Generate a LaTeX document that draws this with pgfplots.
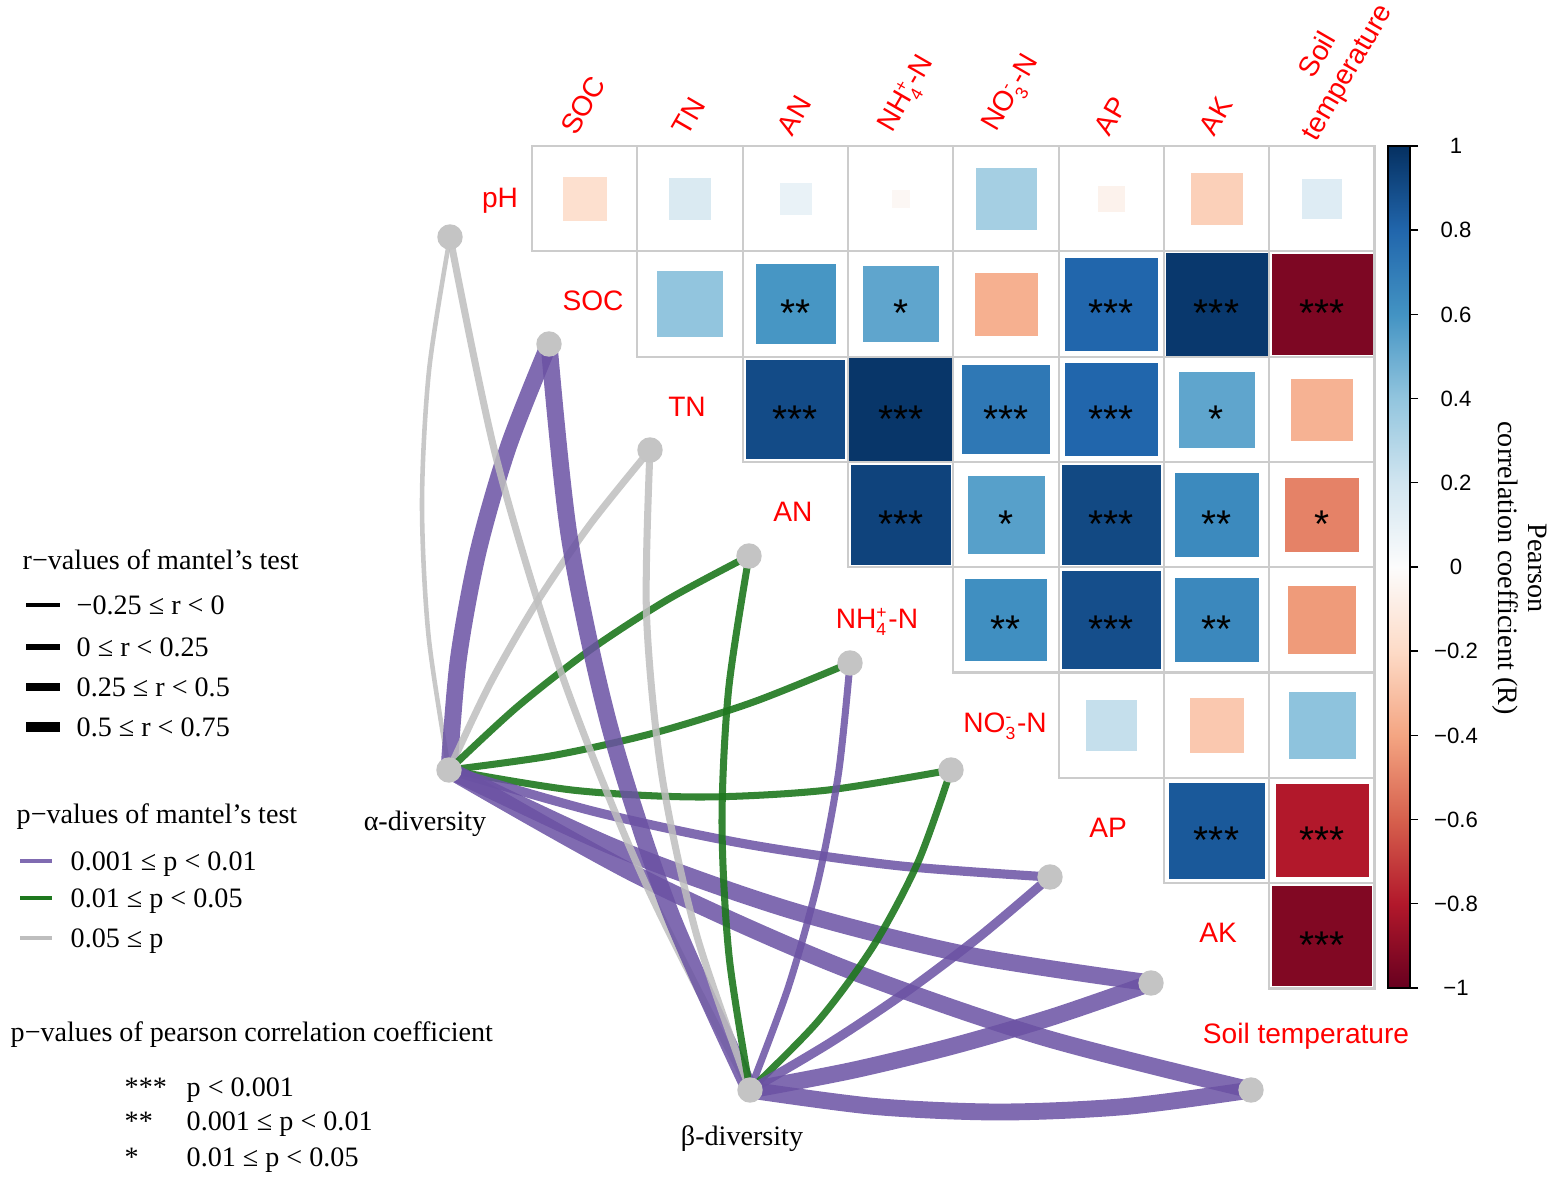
\documentclass[border=0pt]{standalone}
\usepackage{fontspec}
\setmainfont{Liberation Serif}
\newfontfamily\arial{Liberation Sans}
\usepackage{pgfplots}
\pgfplotsset{compat=1.18}
\usepackage{pgfplotstable}
\usetikzlibrary{calc}

\definecolor{mpurple}{RGB}{106,81,163}
\definecolor{mgreen}{RGB}{30,120,30}
\definecolor{mgray}{RGB}{190,190,190}
\definecolor{dotgray}{RGB}{196,196,196}
\definecolor{gridgray}{RGB}{204,204,204}

\newcommand\leg{\fontsize{8}{9.6}\selectfont}
\newcommand\cbl{\fontsize{8}{8.6}\selectfont}
\newcommand\lab{\arial\fontsize{8}{9.6}\selectfont}
\newcommand\stf{\arial\fontsize{11}{12}\selectfont}
\newcommand\tkf{\arial\fontsize{6.3}{7.5}\selectfont}

\pgfplotsset{
  colormap={rdbu}{rgb255=(103,0,31) rgb255=(178,24,43) rgb255=(214,96,77)
    rgb255=(244,165,130) rgb255=(253,219,199) rgb255=(252,252,252)
    rgb255=(209,229,240) rgb255=(146,197,222) rgb255=(67,147,195)
    rgb255=(33,102,172) rgb255=(5,48,97)},
  pur/.style={color=mpurple, opacity=0.85},
  grn/.style={color=mgreen, opacity=0.9},
  gry/.style={color=mgray, opacity=0.85},
  w1/.style={line width=1.3pt},
  w2/.style={line width=2.0pt},
  w3/.style={line width=2.6pt},
  w4/.style={line width=4.8pt},
  ml/.style={smooth, no markers},
}

% pearson r for the upper triangle: i = row (pH..AK), j = column (SOC..Soil temperature)
\pgfplotstableread{
i j r
0 0 -0.17
0 1 0.16
0 2 0.09
0 3 -0.03
0 4 0.34
0 5 -0.06
0 6 -0.24
0 7 0.14
1 1 0.40
1 2 0.59
1 3 0.53
1 4 -0.36
1 5 0.80
1 6 0.97
1 7 -0.94
2 2 0.90
2 3 0.98
2 4 0.72
2 5 0.80
2 6 0.53
2 7 -0.35
3 3 0.93
3 4 0.55
3 5 0.91
3 6 0.64
3 7 -0.50
4 4 0.62
4 5 0.89
4 6 0.65
4 7 -0.43
5 5 0.24
5 6 -0.27
5 7 0.41
6 6 0.85
6 7 -0.80
7 7 -0.93
}\tiles

\pgfplotstableread{
i j s
1 2 **
1 3 *
1 5 ***
1 6 ***
1 7 ***
2 2 ***
2 3 ***
2 4 ***
2 5 ***
2 6 *
3 3 ***
3 4 *
3 5 ***
3 6 **
3 7 *
4 4 **
4 5 ***
4 6 **
6 6 ***
6 7 ***
7 7 ***
}\stars

\pgfplotstableread{
x y
450 237
549 344
650 450
749 556
850 663
951 770
1050 877
1151 983
1251 1090
449 770
750 1090
}\nodetab

\begin{document}
\begin{tikzpicture}
\begin{axis}[
  at={(0,0)}, anchor=south west,
  scale only axis, width=155.9mm, height=118.4mm,
  xmin=0, xmax=1559, ymin=0, ymax=1184, y dir=reverse,
  axis lines=none, clip=false,
  colormap name=rdbu, point meta min=-1, point meta max=1,
  colorbar,
  colorbar style={
    at={($(parent axis.south west)+(135.8mm,19.6mm)$)}, anchor=south west,
    scale only axis, width=2.2mm, height=84.2mm,
    y dir=normal, axis lines=box,
    ytick={-1,-0.8,-0.6,-0.4,-0.2,0,0.2,0.4,0.6,0.8,1},
    yticklabels={−1,−0.8,−0.6,−0.4,−0.2,0,0.2,0.4,0.6,0.8,1},
    yticklabel pos=right, ytick pos=right, tick align=outside,
    major tick length=0.8mm,
    yticklabel style={font=\tkf, anchor=center, xshift=3.8mm},
    axis line style={line width=0.4pt, black},
    tick style={line width=0.4pt, black},
  },
]

% mantel curves from alpha-diversity
\addplot[ml, gry, w1] coordinates {(449,770) (428.6,636.4) (422,503) (429.1,369.9) (450,237)};
\addplot[ml, pur, w4] coordinates {(449,770) (458.3,659.8) (478,552) (508.3,446.8) (549,344)};
\addplot[ml, gry, w2] coordinates {(449,770) (489.9,684) (537,602) (590.4,524) (650,450)};
\addplot[ml, grn, w2] coordinates {(449,770) (517.3,706.8) (590,650) (667.3,599.8) (749,556)};
\addplot[ml, grn, w2] coordinates {(449,770) (552.6,755.6) (654,733) (753.1,702.1) (850,663)};
\addplot[ml, grn, w2] coordinates {(449,770) (574.5,790.3) (700,797) (825.5,790.3) (951,770)};
\addplot[ml, pur, w3] coordinates {(449,770) (596.6,812.1) (746,844) (897.1,865.6) (1050,877)};
\addplot[ml, pur, w4] coordinates {(449,770) (617,848.4) (790,910) (968,954.9) (1151,983)};
\addplot[ml, pur, w4] coordinates {(449,770) (639,876.3) (836,965) (1040,1036.3) (1251,1090)};
% mantel curves from beta-diversity
\addplot[ml, gry, w2] coordinates {(750,1090) (646.5,885.4) (562,675) (496.5,458.9) (450,237)};
\addplot[ml, pur, w4] coordinates {(750,1090) (670.1,911.8) (610,728) (569.6,538.8) (549,344)};
\addplot[ml, gry, w2] coordinates {(750,1090) (696.5,934.5) (662,776) (646.5,614.5) (650,450)};
\addplot[ml, grn, w2] coordinates {(750,1090) (729.1,956.5) (722,823) (728.6,689.5) (749,556)};
\addplot[ml, pur, w2] coordinates {(750,1090) (788.5,986.6) (818,881) (838.5,773.1) (850,663)};
\addplot[ml, grn, w2] coordinates {(750,1090) (817.9,1021.3) (874,945) (918.4,861.3) (951,770)};
\addplot[ml, pur, w3] coordinates {(750,1090) (829.5,1043.1) (906,992) (979.5,936.6) (1050,877)};
\addplot[ml, pur, w4] coordinates {(750,1090) (852.1,1070.4) (953,1046) (1052.6,1016.9) (1151,983)};
\addplot[ml, pur, w4] coordinates {(750,1090) (875.25,1106.5) (1000,1112) (1125.75,1106.5) (1251,1090)};

\addplot[only marks, color=dotgray, mark=*, mark size=1.2mm, mark options={fill=dotgray, draw=dotgray}] table {\nodetab};

% grid cells
\addplot[only marks, color=gridgray, mark=square, mark size=5.265mm, mark options={draw=gridgray, line width=0.6pt}]
  table[x expr=584.7+105.3*\thisrow{j}, y expr=198.7+105.3*\thisrow{i}] {\tiles};
% sized squares
\addplot[scatter, only marks, mark=square*, point meta=\thisrow{r},
  scatter/use mapped color={draw=mapped color, fill=mapped color, line width=0.1pt},
  visualization depends on={5.15*sqrt(abs(\thisrow{r})) \as \hs},
  scatter/@pre marker code/.append style={/tikz/mark size=\hs mm}]
  table[x expr=584.7+105.3*\thisrow{j}, y expr=198.7+105.3*\thisrow{i}] {\tiles};
% significance stars
\addplot[only marks, mark=none, point meta=explicit symbolic, nodes near coords,
  every node near coord/.append style={anchor=base, font=\stf, yshift=-2.3mm, inner sep=0pt}]
  table[x expr=584.7+105.3*\thisrow{j}, y expr=198.7+105.3*\thisrow{i}, meta=s] {\stars};

% row labels
\begin{scope}[every node/.style={font=\lab, text=red, anchor=base, inner sep=0pt}]
\node at (axis cs:500,208) {pH};
\node at (axis cs:593,311) {SOC};
\node at (axis cs:687,417) {TN};
\node at (axis cs:793,522) {AN};
\node at (axis cs:877,628) {NH$_{\mbox{\tiny 4}}^{\mbox{\tiny +}}$-N};
\node at (axis cs:1005,732) {NO$_{\mbox{\tiny 3}}^{\mbox{\tiny -}}$-N};
\node at (axis cs:1108,837) {AP};
\node at (axis cs:1218,942) {AK};
\node at (axis cs:1306,1043) {Soil temperature};
\end{scope}
% column labels
\begin{scope}[every node/.style={font=\lab, text=red, anchor=south west, rotate=60, inner sep=0pt}]
\node at (axis cs:577,138) {SOC};
\node at (axis cs:688,138) {TN};
\node at (axis cs:793,138) {AN};
\node at (axis cs:899,138) {NH$_{\mbox{\tiny 4}}^{\mbox{\tiny +}}$-N};
\node at (axis cs:1004,138) {NO$_{\mbox{\tiny 3}}^{\mbox{\tiny -}}$-N};
\node at (axis cs:1110,138) {AP};
\node at (axis cs:1215,138) {AK};
\node[align=center] at (axis cs:1322,146) {Soil\\temperature};
\end{scope}

\node[font=\cbl, rotate=-90, align=center] at (axis cs:1520,568) {Pearson\\correlation coefficient (R)};

\node[font=\leg, anchor=base] at (axis cs:425,830) {α-diversity};
\node[font=\leg, anchor=base] at (axis cs:742,1145) {β-diversity};

% legend: r-values
\begin{scope}[every node/.style={font=\leg, anchor=base west, inner sep=0pt}]
\node at (axis cs:22,569) {r−values of mantel’s test};
\draw[black, line width=1.1pt] (axis cs:26,605) -- (axis cs:60,605);
\draw[black, line width=1.6pt] (axis cs:26,647) -- (axis cs:60,647);
\draw[black, line width=2.1pt] (axis cs:26,687) -- (axis cs:60,687);
\draw[black, line width=3.0pt] (axis cs:26,727) -- (axis cs:60,727);
\node at (axis cs:76,614) {−0.25 ≤ r < 0};
\node at (axis cs:76,656) {0 ≤ r < 0.25};
\node at (axis cs:76,696) {0.25 ≤ r < 0.5};
\node at (axis cs:76,736) {0.5 ≤ r < 0.75};
% legend: p-values
\node at (axis cs:16,823) {p−values of mantel’s test};
\draw[mpurple!85, line width=1.2pt] (axis cs:20,861) -- (axis cs:52,861);
\draw[mgreen, line width=1.2pt] (axis cs:20,898) -- (axis cs:52,898);
\draw[mgray, line width=1.2pt] (axis cs:20,938) -- (axis cs:52,938);
\node at (axis cs:70,870) {0.001 ≤ p < 0.01};
\node at (axis cs:70,907) {0.01 ≤ p < 0.05};
\node at (axis cs:70,947) {0.05 ≤ p};
% legend: pearson p
\node at (axis cs:10,1041) {p−values of pearson correlation coefficient};
\node at (axis cs:124,1096) {***};
\node at (axis cs:124,1130) {**};
\node at (axis cs:124,1166) {*};
\node at (axis cs:186,1096) {p < 0.001};
\node at (axis cs:186,1130) {0.001 ≤ p < 0.01};
\node at (axis cs:186,1166) {0.01 ≤ p < 0.05};
\end{scope}
\end{axis}
\pgfresetboundingbox
\path[use as bounding box] (0,0) rectangle (155.9mm,118.4mm);
\end{tikzpicture}
\end{document}
